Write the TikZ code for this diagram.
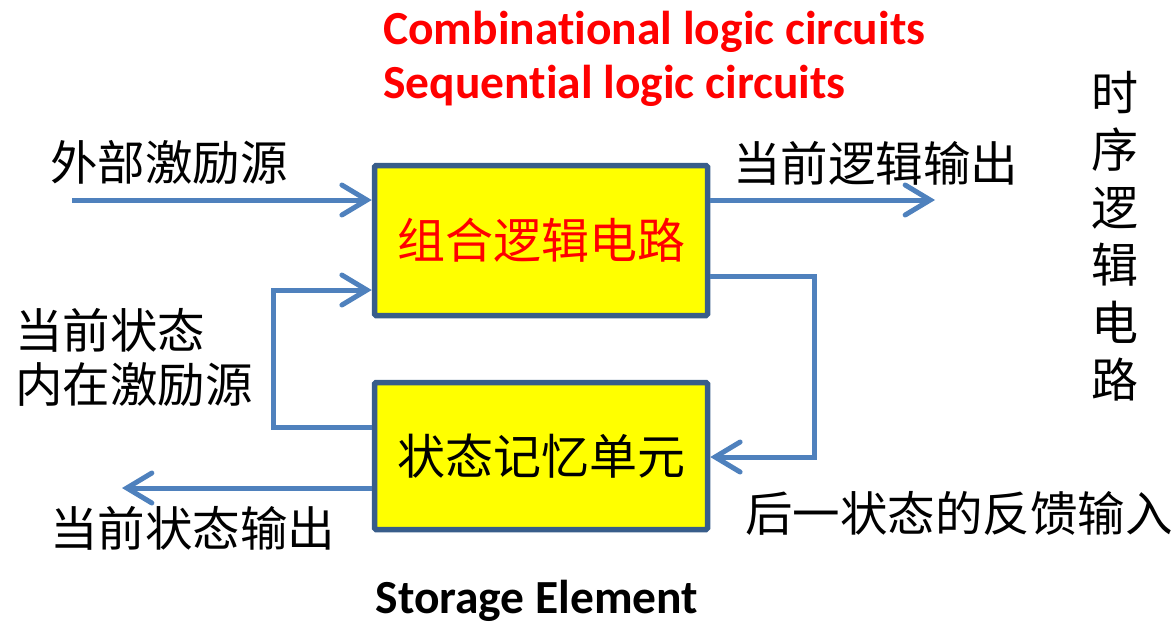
\documentclass[tikz,border=0pt]{standalone}
\usepackage{fontspec}
\setmainfont{Carlito}[Ligatures=NoCommon]
\newfontfamily\cjk{Noto Sans CJK SC}
\usetikzlibrary{arrows.meta,calc}
\definecolor{flowblue}{HTML}{4F81BD}
\definecolor{boxedge}{HTML}{385D8A}
\definecolor{boxfill}{HTML}{FFFF00}
\definecolor{hot}{HTML}{FF0000}
\tikzset{
  block/.style={draw=boxedge, line width=5.5pt, fill=boxfill, rounded corners=1.5pt,
    minimum width=333pt, inner sep=0pt, font=\cjk\fontsize{48}{52}\selectfont},
  flow/.style={draw=flowblue, line width=5pt, line join=miter,
    -{Straight Barb[length=25pt,width=30pt,line width=5pt,line cap=round]}},
  zh/.style={inner sep=0pt, font=\cjk\fontsize{47.5}{52}\selectfont},
  en/.style={inner sep=0pt, font=\bfseries\fontsize{47.5}{52}\selectfont},
}
\begin{document}
\begin{tikzpicture}[x=1pt,y=-1pt]
\useasboundingbox (0,0) rectangle (1176,627);

% blocks
\node[block, minimum height=150pt, text=hot] (comb) at (541,240.5) {组合逻辑电路};
\node[block, minimum height=147pt] (mem) at (541,456) {状态记忆单元};

% headings
\node[en, text=hot, anchor=base west] (t1) at (383,44) {Combinational logic circuits};
\node[en, text=hot, anchor=base west] (t2) at (383,98) {Sequential logic circuits};
\node[en, anchor=base] (t3) at (537,613) {Storage Element};

% side labels
\node[zh, anchor=west] (lin) at (50,162) {外部激励源};
\node[zh, anchor=west] (lout) at (733,163) {当前逻辑输出};
\node[zh, anchor=west] (lcur) at (15,330) {当前状态};
\node[zh, anchor=west] (lint) at (15,385) {内在激励源};
\node[zh, anchor=west] (lnext) at (745,513) {后一状态的反馈输入};
\node[zh, anchor=west] (lsout) at (50,528) {当前状态输出};
\node[inner sep=0pt, align=center, font=\cjk\fontsize{47}{57.5}\selectfont] (side) at (1115,236)
  {时\\序\\逻\\辑\\电\\路};

% connector end points
\coordinate (ext) at (72,200);
\coordinate (out) at (935,200);
\coordinate (lowL) at (273,427);
\coordinate (upL) at (273,290);
\coordinate (upR) at (814,276);
\coordinate (lowR) at (814,457);
\coordinate (sout) at (122,488);

% connectors
\draw[flow] (ext) -- (comb.west |- ext);
\draw[flow] (comb.east |- out) -- (out);
\draw[flow] (mem.west |- lowL) -- (lowL) -- (upL) -- (comb.west |- upL);
\draw[flow] (comb.east |- upR) -- (upR) -- (lowR) -- (mem.east |- lowR);
\draw[flow] (mem.west |- sout) -- (sout);
\end{tikzpicture}
\end{document}
